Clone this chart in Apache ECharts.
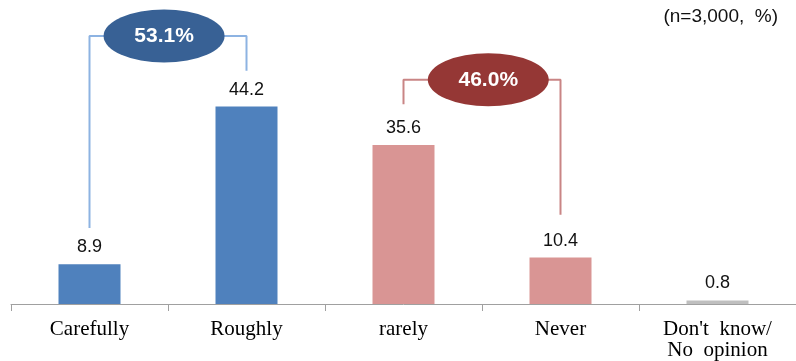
<!DOCTYPE html>
<html>
<head>
<meta charset="utf-8">
<script src="https://cdn.jsdelivr.net/npm/echarts@6/dist/echarts.min.js"></script>
<style>
  html, body { margin: 0; padding: 0; background: #fff; }
  #chart { width: 796px; height: 361px; }
</style>
</head>
<body>
<div id="chart"></div>
<script>
// Survey answers (n=3,000, %)
const categories = ['Carefully', 'Roughly', 'rarely', 'Never', "Don't  know/\nNo  opinion"];
const values = [8.9, 44.2, 35.6, 10.4, 0.8];
const barColors = ['#4F81BD', '#4F81BD', '#D99594', '#D99594', '#BFBFBF'];

// Grouped totals shown in the bracket bubbles
const groupLabels = ['53.1%', '46.0%'];
const groupBubbleX = [0.975, 3.04];        // position on the 0..5 category scale
const groupBubbleY = [60, 50.2];
// Bracket paths on the 0..5 scale: [x, y] points
const bracketBlue = [[0.5, 17], [0.5, 60], [1.5, 60], [1.5, 52.2]];
const bracketRed = [[2.5, 44.7], [2.5, 50.2], [3.5, 50.2], [3.5, 20]];

const chart = echarts.init(document.getElementById('chart'));
chart.setOption({
  animation: false,
  grid: { left: 11, right: -5, top: 36, bottom: 55 },
  xAxis: [
    {
      type: 'category',
      data: categories,
      axisLine: { lineStyle: { color: '#a0a0a0', width: 1 } },
      axisTick: { show: true, length: 7, lineStyle: { color: '#a0a0a0' } },
      axisLabel: {
        color: '#000',
        fontFamily: 'Liberation Serif',
        fontSize: 21,
        lineHeight: 21,
        margin: 15
      }
    },
    { type: 'value', min: 0, max: 5, show: false }
  ],
  yAxis: { type: 'value', min: 0, max: 60, show: false },
  series: [
    {
      type: 'bar',
      data: values.map((v, i) => ({ value: v, itemStyle: { color: barColors[i] } })),
      barWidth: 62,
      label: {
        show: true,
        position: 'top',
        distance: 8,
        color: '#111',
        fontFamily: 'Liberation Sans',
        fontSize: 18,
        formatter: p => p.value.toFixed(1)
      }
    },
    {
      type: 'line', xAxisIndex: 1, data: bracketBlue, symbol: 'none',
      lineStyle: { color: '#8DB3E2', width: 2 }, z: 3
    },
    {
      type: 'line', xAxisIndex: 1, data: bracketRed, symbol: 'none',
      lineStyle: { color: '#C98585', width: 2 }, z: 3
    },
    {
      type: 'scatter', xAxisIndex: 1, symbol: 'circle', symbolSize: [121, 53], z: 5,
      data: groupLabels.map((t, i) => ({
        value: [groupBubbleX[i], groupBubbleY[i]],
        name: t,
        itemStyle: { color: i === 0 ? '#386195' : '#953735', opacity: 1 }
      })),
      label: {
        show: true, position: 'inside', formatter: p => p.name,
        color: '#fff', fontFamily: 'Liberation Sans', fontSize: 21, fontWeight: 'bold'
      }
    }
  ],
  graphic: [
    {
      type: 'text', right: 18, top: 7,
      style: { text: '(n=3,000,  %)', fontFamily: 'Liberation Sans', fontSize: 19, fill: '#111' }
    }
  ]
});
</script>
</body>
</html>
